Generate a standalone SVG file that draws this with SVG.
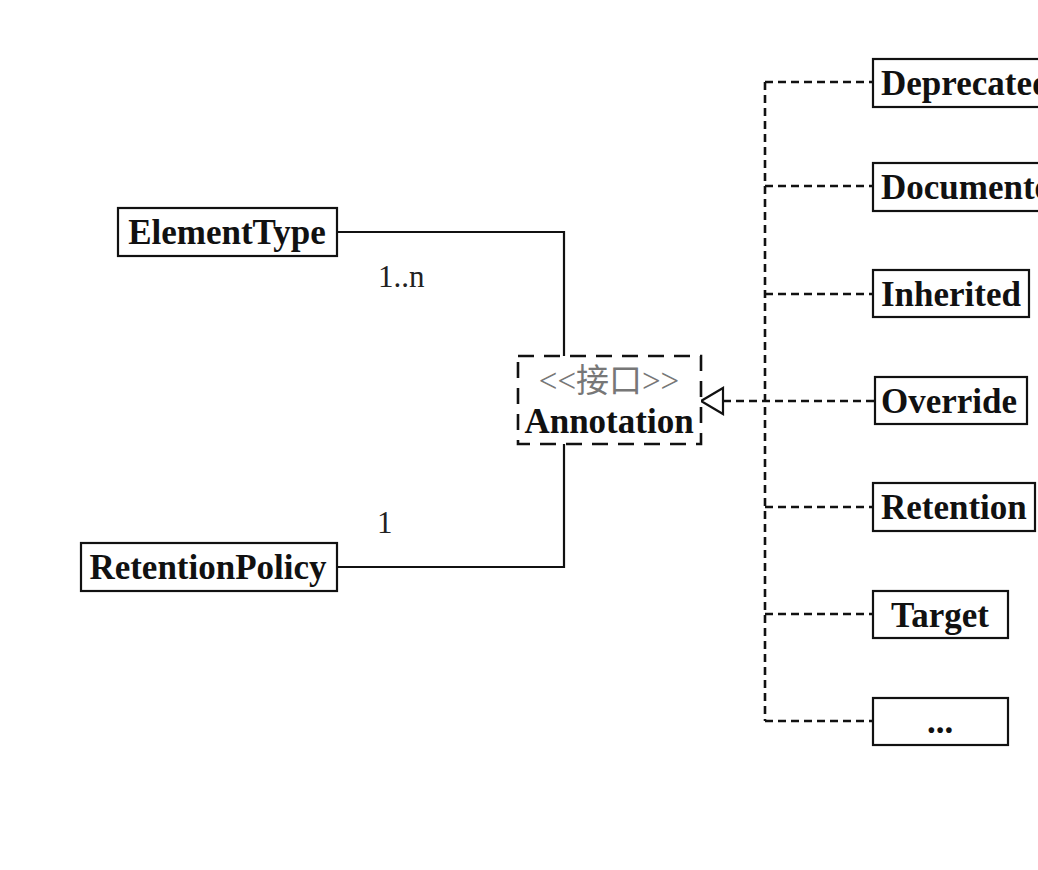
<svg xmlns="http://www.w3.org/2000/svg" width="1038" height="870" viewBox="0 0 1038 870">
<style>
.box{fill:#fff;stroke:#111;stroke-width:2.2}
.dbox{fill:#fff;stroke:#111;stroke-width:2.6;stroke-dasharray:16 10}
.t{font-family:"Liberation Serif","Times New Roman",serif;font-size:35px;font-weight:bold;fill:#111}
.r{font-family:"Liberation Serif","Times New Roman",serif;font-size:31px;fill:#222}
.st{font-family:"Liberation Serif","Times New Roman","Noto Sans CJK SC",serif;font-size:33px;fill:#777}
.solid{fill:none;stroke:#111;stroke-width:2.2}
.dash{fill:none;stroke:#111;stroke-width:2.6;stroke-dasharray:8 5}
</style>
<rect width="1038" height="870" fill="#fff"/>
<g id="connectors">
<polyline class="solid" points="337,232 564,232 564,356"/>
<polyline class="solid" points="337,567 564,567 564,444"/>
<line class="dash" x1="765" y1="82" x2="765" y2="721"/>
<line class="dash" x1="765" y1="82" x2="872" y2="82"/>
<line class="dash" x1="765" y1="186" x2="872" y2="186"/>
<line class="dash" x1="765" y1="294" x2="872" y2="294"/>
<line class="dash" x1="723" y1="401" x2="874" y2="401"/>
<line class="dash" x1="765" y1="507" x2="872" y2="507"/>
<line class="dash" x1="765" y1="614" x2="872" y2="614"/>
<line class="dash" x1="765" y1="721" x2="872" y2="721"/>
<polygon points="701,401 723,388 723,414" fill="#fff" stroke="#111" stroke-width="2.2"/>
<text class="r" x="378" y="287">1..n</text>
<text class="r" x="377" y="533">1</text>
</g>
<g id="ElementType">
<rect class="box" x="118" y="208" width="219" height="48"/>
<text class="t" x="227" y="244" text-anchor="middle">ElementType</text>
</g>
<g id="RetentionPolicy">
<rect class="box" x="81" y="543" width="256" height="48"/>
<text class="t" x="208" y="579" text-anchor="middle">RetentionPolicy</text>
</g>
<g id="Annotation">
<rect class="dbox" x="518" y="356" width="183" height="88"/>
<text class="st" x="609" y="392" text-anchor="middle">&lt;&lt;接口&gt;&gt;</text>
<text class="t" x="609" y="433" text-anchor="middle">Annotation</text>
</g>
<g id="Deprecated">
<rect class="box" x="873" y="59" width="180" height="48"/>
<text class="t" x="881" y="95">Deprecated</text>
</g>
<g id="Documented">
<rect class="box" x="873" y="163" width="180" height="48"/>
<text class="t" x="881" y="199">Documented</text>
</g>
<g id="Inherited">
<rect class="box" x="873" y="270" width="156" height="47"/>
<text class="t" x="881" y="306">Inherited</text>
</g>
<g id="Override">
<rect class="box" x="875" y="377" width="152" height="47"/>
<text class="t" x="881" y="413">Override</text>
</g>
<g id="Retention">
<rect class="box" x="873" y="483" width="162" height="48"/>
<text class="t" x="881" y="519">Retention</text>
</g>
<g id="Target">
<rect class="box" x="873" y="591" width="135" height="47"/>
<text class="t" x="940" y="627" text-anchor="middle">Target</text>
</g>
<g id="More">
<rect class="box" x="873" y="698" width="135" height="47"/>
<text class="t" x="940" y="733" text-anchor="middle">...</text>
</g>
</svg>
